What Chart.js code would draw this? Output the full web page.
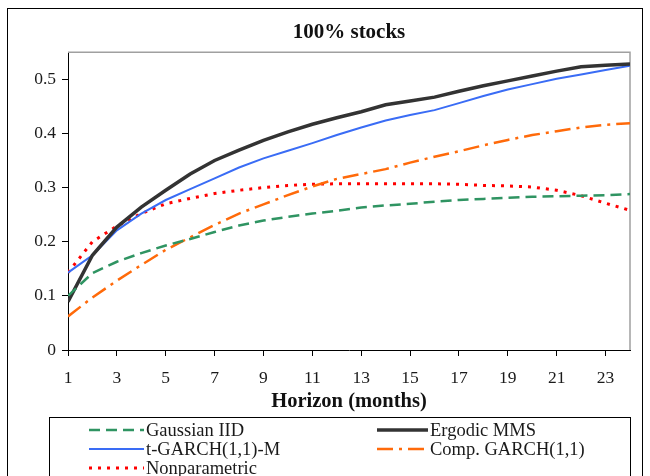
<!DOCTYPE html>
<html>
<head>
<meta charset="utf-8">
<script src="https://cdn.jsdelivr.net/npm/chart.js@4"></script>
<style>
  body { margin: 0; background: #fff; }
  #wrap { width: 650px; height: 476px; }
</style>
</head>
<body>
<div id="wrap"><canvas id="grafico" width="650" height="476"></canvas></div>
<script>
// horizon in months
const horizon = [1, 2, 3, 4, 5, 6, 7, 8, 9, 10, 11, 12, 13, 14, 15, 16, 17, 18, 19, 20, 21, 22, 23, 24];

const gaussianIID = [0.100, 0.142, 0.163, 0.179, 0.193, 0.205, 0.218, 0.230, 0.239, 0.246, 0.252, 0.257, 0.263, 0.267, 0.270, 0.274, 0.277, 0.279, 0.281, 0.283, 0.284, 0.285, 0.286, 0.288];
const ergodicMMS = [0.089, 0.175, 0.227, 0.264, 0.295, 0.325, 0.350, 0.369, 0.387, 0.403, 0.417, 0.429, 0.440, 0.453, 0.460, 0.467, 0.478, 0.488, 0.497, 0.506, 0.515, 0.523, 0.526, 0.528];
const tGarch = [0.143, 0.175, 0.221, 0.252, 0.277, 0.297, 0.317, 0.337, 0.354, 0.368, 0.382, 0.397, 0.411, 0.424, 0.434, 0.443, 0.456, 0.469, 0.481, 0.491, 0.501, 0.509, 0.517, 0.525];
const compGarch = [0.062, 0.097, 0.128, 0.157, 0.185, 0.208, 0.231, 0.252, 0.269, 0.286, 0.302, 0.316, 0.325, 0.334, 0.346, 0.357, 0.367, 0.378, 0.388, 0.397, 0.404, 0.411, 0.416, 0.419];
const nonparametric = [0.143, 0.200, 0.229, 0.252, 0.270, 0.280, 0.289, 0.295, 0.300, 0.304, 0.306, 0.307, 0.307, 0.307, 0.307, 0.307, 0.306, 0.304, 0.303, 0.301, 0.295, 0.285, 0.271, 0.258];

const xTicks = [1, 3, 5, 7, 9, 11, 13, 15, 17, 19, 21, 23];
const yTicks = [0, 0.1, 0.2, 0.3, 0.4, 0.5];

const fonte = "'Liberation Serif', 'Times New Roman', serif";

function pares(valores) {
  return valores.map((v, i) => ({ x: horizon[i], y: v }));
}

// moldura, borda do plot e legenda em duas colunas
const molduraPlugin = {
  id: "moldura",
  beforeDraw(chart) {
    const ctx = chart.ctx;
    ctx.save();
    ctx.fillStyle = "#fff";
    ctx.fillRect(0, 0, chart.width, chart.height);
    ctx.restore();
  },
  beforeDatasetsDraw(chart) {
    const { ctx, chartArea } = chart;
    ctx.save();
    ctx.strokeStyle = "#a0a0a0";
    ctx.lineWidth = 1.5;
    ctx.beginPath();
    ctx.moveTo(chartArea.left, chartArea.top);
    ctx.lineTo(chartArea.right, chartArea.top);
    ctx.lineTo(chartArea.right, chartArea.bottom);
    ctx.stroke();
    ctx.restore();
  },
  afterDraw(chart) {
    const ctx = chart.ctx;
    ctx.save();
    ctx.strokeStyle = "#000";
    ctx.lineWidth = 1;
    ctx.strokeRect(7.5, 8.5, 635, 480);
    ctx.strokeRect(49.5, 417.5, 581, 70);

    const posicoes = [
      { x: 89, y: 430 },
      { x: 377, y: 430 },
      { x: 89, y: 449 },
      { x: 377, y: 449 },
      { x: 89, y: 468 },
    ];
    const comprimentos = [55, 51, 55, 51, 55];

    ctx.font = "18.5px " + fonte;
    ctx.textBaseline = "middle";
    ctx.fillStyle = "#1a1a1a";
    chart.data.datasets.forEach((ds, i) => {
      const p = posicoes[i];
      const len = comprimentos[i];
      ctx.save();
      ctx.strokeStyle = ds.borderColor;
      ctx.lineWidth = ds.borderWidth;
      ctx.setLineDash(ds.borderDash || []);
      ctx.beginPath();
      ctx.moveTo(p.x, p.y);
      ctx.lineTo(p.x + len, p.y);
      ctx.stroke();
      ctx.restore();
      ctx.fillText(ds.label, p.x + len + 2, p.y + 1);
    });
    ctx.restore();
  },
};

new Chart(document.getElementById("grafico"), {
  type: "line",
  data: {
    datasets: [
      {
        label: "Gaussian IID",
        data: pares(gaussianIID),
        borderColor: "#2f9462",
        borderWidth: 2.5,
        borderDash: [11, 6],
      },
      {
        label: "Ergodic MMS",
        data: pares(ergodicMMS),
        borderColor: "#333333",
        borderWidth: 3.5,
      },
      {
        label: "t-GARCH(1,1)-M",
        data: pares(tGarch),
        borderColor: "#3a6cf5",
        borderWidth: 2,
      },
      {
        label: "Comp. GARCH(1,1)",
        data: pares(compGarch),
        borderColor: "#ff6a0a",
        borderWidth: 2.5,
        borderDash: [16, 6, 3, 6],
      },
      {
        label: "Nonparametric",
        data: pares(nonparametric),
        borderColor: "#ff0000",
        borderWidth: 3,
        borderDash: [3, 6],
      },
    ],
  },
  options: {
    responsive: false,
    animation: false,
    elements: { point: { radius: 0 }, line: { tension: 0 } },
    layout: { padding: { left: 0, right: 20, top: 0, bottom: 62 } },
    plugins: {
      legend: { display: false },
      tooltip: { enabled: false },
      title: {
        display: true,
        text: "100% stocks",
        fullSize: false,
        color: "#111",
        font: { family: fonte, size: 21, weight: "bold", lineHeight: 1.2 },
        padding: { top: 20, bottom: 7 },
      },
    },
    scales: {
      x: {
        type: "linear",
        min: 1,
        max: 24,
        afterBuildTicks: (scale) => {
          scale.ticks = xTicks.map((v) => ({ value: v }));
        },
        afterFit: (scale) => {
          scale.height = 64;
        },
        grid: { drawOnChartArea: false, drawTicks: true, tickLength: 6, color: "#000" },
        border: { color: "#000", width: 1 },
        ticks: {
          color: "#1a1a1a",
          font: { family: fonte, size: 17.5 },
          padding: 12,
          maxRotation: 0,
          callback: (v) => String(v),
        },
        title: {
          display: true,
          text: "Horizon (months)",
          color: "#111",
          font: { family: fonte, size: 20.5, weight: "bold", lineHeight: 1.2 },
          padding: { top: 0, bottom: 0 },
        },
      },
      y: {
        min: 0,
        max: 0.55,
        afterBuildTicks: (scale) => {
          scale.ticks = yTicks.map((v) => ({ value: v }));
        },
        afterFit: (scale) => {
          scale.width = 68;
        },
        grid: { drawOnChartArea: false, drawTicks: true, tickLength: 6, color: "#000" },
        border: { color: "#000", width: 1 },
        ticks: {
          color: "#1a1a1a",
          font: { family: fonte, size: 17.5 },
          padding: 6,
          callback: (v) => String(v),
        },
      },
    },
  },
  plugins: [molduraPlugin],
});
</script>
</body>
</html>
